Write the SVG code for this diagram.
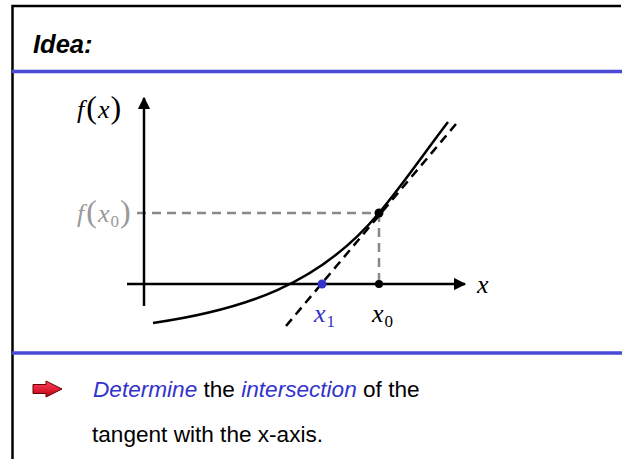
<svg xmlns="http://www.w3.org/2000/svg" width="622" height="459" viewBox="0 0 622 459">
<style>
.serif{font-family:"Liberation Serif","Times New Roman",serif}
.sans{font-family:"Liberation Sans",Arial,sans-serif}
.ax{stroke:#000;stroke-width:2.5;fill:none}
.gd{stroke:#888;stroke-width:2.5;fill:none;stroke-dasharray:9 6}
.sep{stroke:#4a4ad8;stroke-width:3.5}
.p{font-size:32px;font-style:normal}
</style>
<defs>
<marker id="ah" viewBox="0 0 10 10" refX="9" refY="5" markerWidth="5" markerHeight="5" orient="auto" markerUnits="strokeWidth">
<path d="M0,0 L10,5 L0,10 z" fill="#000"/>
</marker>
<linearGradient id="rg" x1="0" y1="0" x2="0" y2="1">
<stop offset="0" stop-color="#ff4060"/><stop offset="1" stop-color="#c00010"/>
</linearGradient>
</defs>
<rect x="0" y="0" width="622" height="459" fill="#fff"/>
<g id="frame">
<path d="M12.5,470 V6 H621" fill="none" stroke="#000" stroke-width="2.5"/>
<line class="sep" x1="12" y1="71.5" x2="622" y2="71.5"/>
<line class="sep" x1="12" y1="353" x2="622" y2="353"/>
</g>
<g id="title"><text class="sans" x="33" y="53" font-size="25.5" font-weight="bold" font-style="italic">Idea:</text></g>
<g id="connectors">
<line class="gd" x1="137" y1="213" x2="379" y2="213"/>
<line class="gd" x1="379" y1="213" x2="379" y2="284"/>
<line class="ax" x1="144" y1="306" x2="144" y2="98" marker-end="url(#ah)"/>
<line class="ax" x1="127" y1="284" x2="465" y2="284" marker-end="url(#ah)"/>
<line x1="286" y1="326" x2="456" y2="124" stroke="#000" stroke-width="2.5" stroke-dasharray="9 6"/>
<path class="ax" d="M153,323 C243,310 319,285 379,213 C404,183 425,152 448,122"/>
</g>
<g id="points">
<circle cx="379" cy="213" r="4.5" fill="#000"/>
<circle cx="379" cy="284" r="4" fill="#000"/>
<circle cx="322" cy="284" r="4.5" fill="#3333cc"/>
</g>
<g id="labels" class="serif" font-size="26">
<text x="77" y="118"><tspan font-style="italic">f</tspan><tspan class="p" dx="2">(</tspan><tspan font-style="italic" dx="1">x</tspan><tspan class="p" dx="1">)</tspan></text>
<text x="77" y="222" fill="#999"><tspan font-style="italic">f</tspan><tspan class="p" dx="2">(</tspan><tspan font-style="italic" dx="1">x</tspan><tspan font-size="17" dy="5" dx="1">0</tspan><tspan class="p" dy="-5" dx="1">)</tspan></text>
<text x="477" y="293" font-style="italic">x</text>
<text x="314" y="322" font-style="italic" fill="#3333cc">x<tspan font-size="17" font-style="normal" dy="5" dx="1">1</tspan></text>
<text x="372" y="322" font-style="italic">x<tspan font-size="17" font-style="normal" dy="5" dx="1">0</tspan></text>
</g>
<g id="note">
<path d="M33,384.5 H46 V381 L62,389 L46,397 V393.5 H33 z" fill="url(#rg)" stroke="#600" stroke-width="1"/>
<text class="sans" x="93" y="397" font-size="22.6"><tspan fill="#3333cc" font-style="italic">Determine</tspan> the <tspan fill="#3333cc" font-style="italic">intersection</tspan> of the</text>
<text class="sans" x="92" y="442" font-size="22.6">tangent with the x-axis.</text>
</g>
</svg>
